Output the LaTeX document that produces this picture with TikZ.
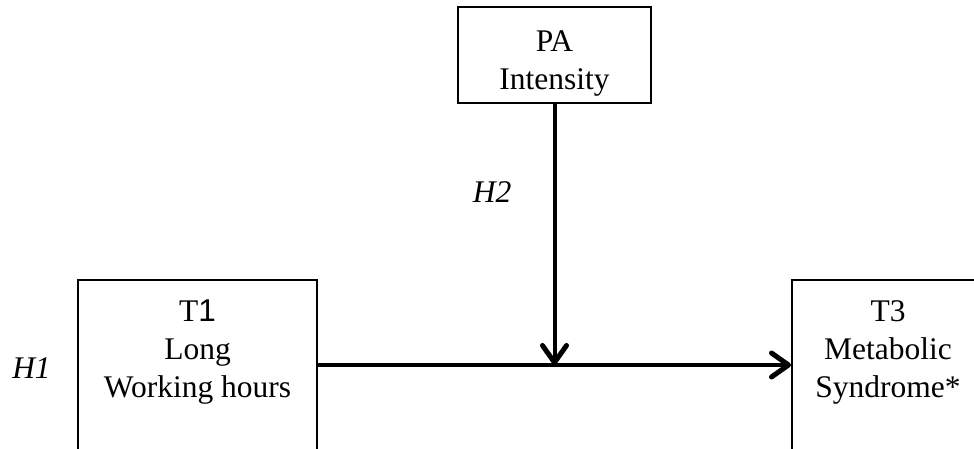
\documentclass[tikz,border=0pt]{standalone}
\usepackage{fontspec}
\setmainfont{Liberation Serif}
\setsansfont{Liberation Sans}
\usepackage{tikz}
\usetikzlibrary{positioning,calc,arrows.meta}

\tikzset{
    varbox/.style={draw, line width=2pt, minimum width=#1, inner sep=0pt},
    boxtext/.style={align=center, inner sep=0pt, font=\fontsize{31.5}{38}\selectfont},
    hyplabel/.style={font=\fontsize{31.5}{38}\selectfont\itshape, anchor=base},
    effect/.style={line width=4pt, -{Straight Barb[length=17pt,width=24pt,line width=5pt,line cap=round,line join=round]}}
}

\begin{document}
\begin{tikzpicture}[x=1pt,y=1pt]
    \useasboundingbox (0,0) rectangle (974,448);

    % variables
    \node[varbox=193, minimum height=96] (pabox) at (554.5,392.5) {};
    \node[varbox=239, minimum height=170] (t1box) at (197.5,83) {};
    \node[varbox=192, minimum height=170] (t3box) at (888,83) {};

    \node[boxtext, anchor=north, below=24 of pabox.north] (pa) {PA\\Intensity};
    \node[boxtext, anchor=north, below=21 of t1box.north] (t1) {T{\sffamily 1}\\Long\\Working hours};
    \node[boxtext, anchor=north, below=21 of t3box.north] (t3) {T3\\Metabolic\\Syndrome*};

    % hypotheses
    \node[hyplabel] (h1) at (31.5,70) {H1};
    \node[hyplabel] (h2) at (492,246) {H2};

    % paths
    \coordinate (mod) at (pabox.south |- t1box.east);
    \draw[effect] (t1box.east) -- (t3box.west);
    \draw[effect] (pabox.south) -- (mod);
\end{tikzpicture}
\end{document}
